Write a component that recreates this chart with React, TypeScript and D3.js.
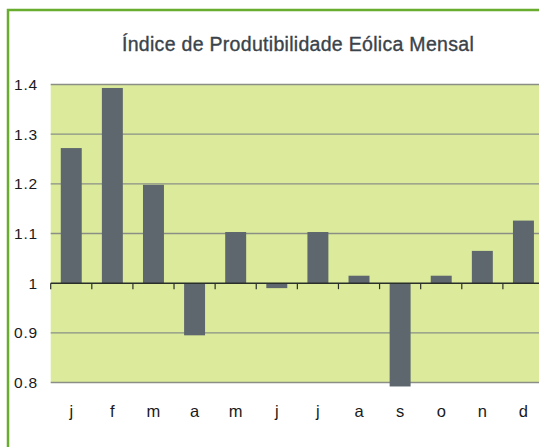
import React from "react";
import * as d3 from "d3";

const months = ["j", "f", "m", "a", "m", "j", "j", "a", "s", "o", "n", "d"];
const values = [1.272, 1.393, 1.198, 0.895, 1.103, 0.99, 1.103, 1.015, 0.792, 1.015, 1.065, 1.126];
const yTicks = [0.8, 0.9, 1.0, 1.1, 1.2, 1.3, 1.4];
const title = "Índice de Produtibilidade Eólica Mensal";

const W = 539;
const H = 447;
const plotLeft = 50.7;
const plotRight = 544;
const plotTop = 84.5;
const plotBottom = 382.5;

export default function App() {
  const keys = months.map((_, i) => String(i));
  const x = d3
    .scaleBand<string>()
    .domain(keys)
    .range([plotLeft, plotRight])
    .paddingInner(0.49)
    .paddingOuter(0.245);
  const y = d3.scaleLinear().domain([0.8, 1.4]).range([plotBottom, plotTop]);
  const step = x.step();
  const base = y(1);
  const font = "'Liberation Sans', Arial, sans-serif";

  return (
    <svg
      width={W}
      height={H}
      style={{ position: "absolute", left: 0, top: 0, background: "#fff" }}
    >
      <rect x={8} y={10} width={560} height={460} fill="#fff" stroke="#69ad2e" strokeWidth={2.5} />
      <text
        x={298}
        y={51}
        textAnchor="middle"
        fontFamily={font}
        fontSize={19.5}
        letterSpacing={0.3}
        fill="#3a434a"
        stroke="#3a434a"
        strokeWidth={0.35}
      >
        {title}
      </text>
      <rect x={plotLeft} y={plotTop} width={plotRight - plotLeft} height={plotBottom - plotTop} fill="#dbeb9b" />
      {yTicks.map((t) => (
        <g key={t}>
          {t !== 1 && (
            <line x1={plotLeft} x2={plotRight} y1={y(t)} y2={y(t)} stroke="#8a8f86" strokeWidth={1.4} />
          )}
          <text
            x={38}
            y={y(t) + 5.5}
            textAnchor="end"
            fontFamily={font}
            fontSize={15.5}
            letterSpacing={0.8}
            fill="#1a1a1a"
          >
            {d3.format("")(+t.toFixed(1))}
          </text>
        </g>
      ))}
      {values.map((v, i) => (
        <rect
          key={i}
          x={x(String(i))}
          width={x.bandwidth()}
          y={Math.min(y(v), base)}
          height={Math.abs(y(v) - base)}
          fill="#5e676d"
        />
      ))}
      <line x1={plotLeft} x2={plotRight} y1={base} y2={base} stroke="#2b2f2a" strokeWidth={1.5} />
      {keys.map((k) => (
        <line
          key={k}
          x1={x(k)! - (step * 0.49) / 2}
          x2={x(k)! - (step * 0.49) / 2}
          y1={base}
          y2={base + 6}
          stroke="#2b2f2a"
          strokeWidth={1.2}
        />
      ))}
      {months.map((m, i) => (
        <text
          key={i}
          x={x(String(i))! + x.bandwidth() / 2}
          y={417}
          textAnchor="middle"
          fontFamily={font}
          fontSize={16.5}
          fill="#1a1a1a"
        >
          {m}
        </text>
      ))}
    </svg>
  );
}
